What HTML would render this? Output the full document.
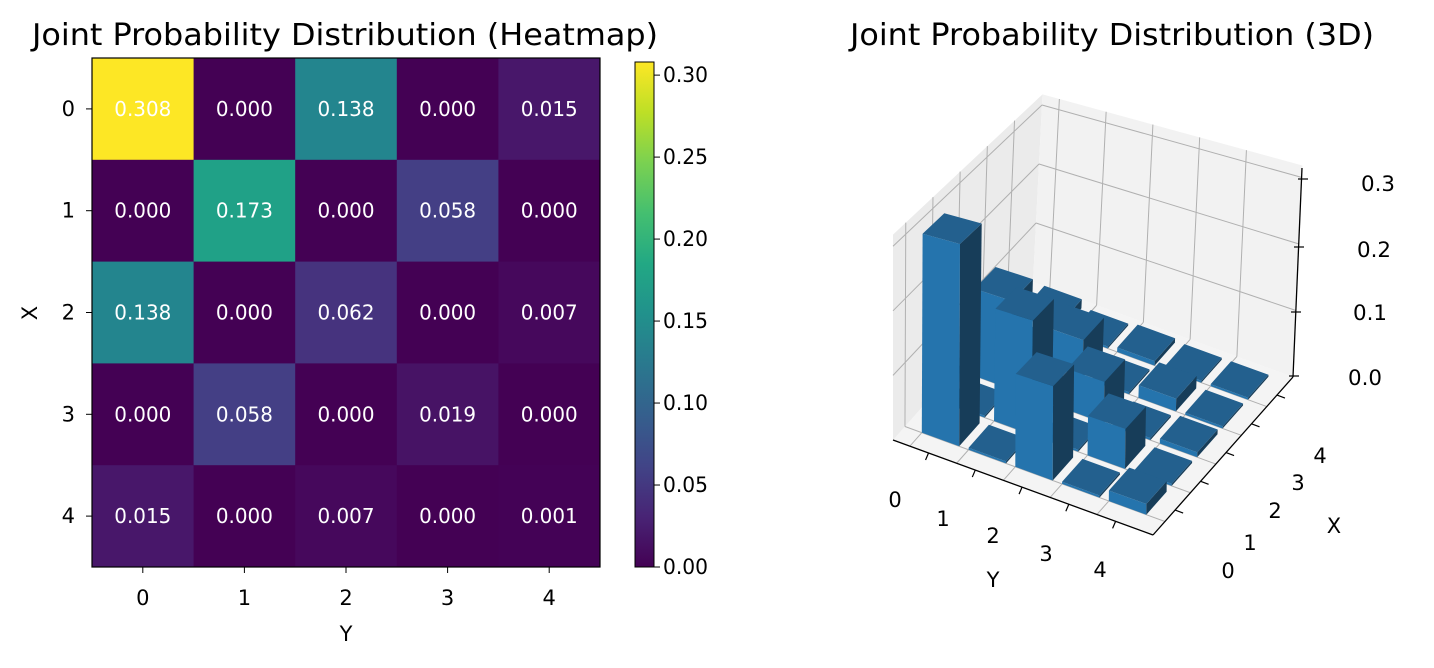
<!DOCTYPE html>
<html><head><meta charset="utf-8"><style>
html,body{margin:0;padding:0;background:#fff;}
svg{display:block;font-family:"DejaVu Sans","Liberation Sans",sans-serif;}
</style></head><body>
<svg id="s" width="1434" height="668" viewBox="0 0 1434 668" xmlns="http://www.w3.org/2000/svg">
<defs>
<linearGradient id="vir" x1="0" y1="1" x2="0" y2="0">
<stop offset="0" stop-color="#440154"/><stop offset="0.1" stop-color="#482475"/><stop offset="0.2" stop-color="#414487"/><stop offset="0.3" stop-color="#355f8d"/><stop offset="0.4" stop-color="#2a788e"/><stop offset="0.5" stop-color="#21918c"/><stop offset="0.6" stop-color="#22a884"/><stop offset="0.7" stop-color="#44bf70"/><stop offset="0.8" stop-color="#7ad151"/><stop offset="0.9" stop-color="#bddf26"/><stop offset="1" stop-color="#fde725"/>
</linearGradient>
</defs>
<text x="32" y="45" font-size="30" textLength="626" lengthAdjust="spacingAndGlyphs">Joint Probability Distribution (Heatmap)</text>
<g id="heat"></g>
<rect x="92" y="58" width="508" height="509" fill="none" stroke="#000" stroke-width="1.2"/>
<rect x="635" y="62" width="19" height="505" fill="url(#vir)" stroke="#000" stroke-width="1"/>
<g id="cb"></g>
<text x="346" y="641" font-size="21" text-anchor="middle">Y</text>
<text x="37" y="313" font-size="21" text-anchor="middle" transform="rotate(-90 37 313)">X</text>
<text x="850" y="45" font-size="30" textLength="524" lengthAdjust="spacingAndGlyphs">Joint Probability Distribution (3D)</text>
<g id="d3"></g>
</svg>
<script>
var P=[[.308,0,.138,0,.015],[0,.173,0,.058,0],[.138,0,.062,0,.007],[0,.058,0,.019,0],[.015,0,.007,0,.001]];
var C={"0.308":"#fde725","0.173":"#20a187","0.138":"#23858e","0.062":"#46337e","0.058":"#443f85","0.019":"#471365","0.015":"#48176a","0.007":"#46085c","0.001":"#440256","0.000":"#440154"};
var ns="http://www.w3.org/2000/svg";
function el(p,t,a,txt){var e=document.createElementNS(ns,t);for(var k in a)e.setAttribute(k,a[k]);if(txt!==undefined)e.textContent=txt;p.appendChild(e);return e;}
var h=document.getElementById('heat');
var cw=508/5,ch=509/5;
for(var i=0;i<5;i++){for(var j=0;j<5;j++){var v=P[i][j].toFixed(3);
el(h,'rect',{x:92+j*cw,y:58+i*ch,width:cw+0.5,height:ch+0.5,fill:C[v]});
el(h,'text',{x:92+j*cw+cw/2-28.5,y:58+i*ch+ch/2+7,'font-size':20,fill:'#fff',textLength:57,lengthAdjust:'spacingAndGlyphs'},v);}
el(h,'line',{x1:86,y1:58+i*ch+ch/2,x2:92,y2:58+i*ch+ch/2,stroke:'#000'});
el(h,'text',{x:75,y:58+i*ch+ch/2+7,'font-size':21,'text-anchor':'end'},i);
el(h,'line',{x1:92+i*cw+cw/2,y1:567,x2:92+i*cw+cw/2,y2:573,stroke:'#000'});
el(h,'text',{x:92+i*cw+cw/2,y:605,'font-size':21,'text-anchor':'middle'},i);}
var cb=document.getElementById('cb');
for(var k=0;k<=6;k++){var y=567-k*0.05/0.308*505;
el(cb,'line',{x1:654,y1:y,x2:660,y2:y,stroke:'#000'});
el(cb,'text',{x:663,y:y+7,'font-size':21,textLength:45,lengthAdjust:'spacingAndGlyphs'},(k*0.05).toFixed(2));}
var d=document.getElementById('d3');
var A=[893,440],B=[1153,535],Cc=[1293,377];
var u0=-0.36,U=5.56,v0=-0.47,V=5.5;
var ey=[(B[0]-A[0])/U,(B[1]-A[1])/U],ex=[(Cc[0]-B[0])/V,(Cc[1]-B[1])/V];
function p(u,v,z){var fu=(u-u0)/U,fv=(v-v0)/V;var s=590+75*fu+56*(1-fv);
return [A[0]+(u-u0)*ey[0]+(v-v0)*ex[0]+z*fv*30, A[1]+(u-u0)*ey[1]+(v-v0)*ex[1]-z*s];}
function poly(pts,f,extra){var a={points:pts.map(function(q){return q[0].toFixed(1)+','+q[1].toFixed(1)}).join(' '),fill:f};for(var k in extra)a[k]=extra[k];return el(d,'polygon',a);}
function ln(a,b,c,w){el(d,'line',{x1:a[0],y1:a[1],x2:b[0],y2:b[1],stroke:c||'#b0b0b0','stroke-width':w||1});}
var um=u0+U,vm=v0+V,zt=0.318;
poly([p(u0,v0,0),p(um,v0,0),p(um,vm,0),p(u0,vm,0)],'#f4f4f4');
poly([p(u0,v0,0),p(u0,vm,0),p(u0,vm,zt),p(u0,v0,zt)],'#ebebeb');
poly([p(u0,vm,0),p(um,vm,0),p(um,vm,zt),p(u0,vm,zt)],'#f2f2f2');
for(var t=0;t<5;t++){
ln(p(t,v0,0),p(t,vm,0));ln(p(t,vm,0),p(t,vm,zt));
ln(p(u0,t,0),p(um,t,0));ln(p(u0,t,0),p(u0,t,zt));}
for(var z=0.1;z<0.35;z+=0.1){ln(p(u0,v0,z),p(u0,vm,z));ln(p(u0,vm,z),p(um,vm,z));}
var bars=[];for(var x=0;x<5;x++)for(var y=0;y<5;y++)bars.push([y,x,P[x][y]]);
bars.sort(function(a,b){return (b[1]-b[0]*0.9)-(a[1]-a[0]*0.9);});
bars.forEach(function(b){var u=b[0],v=b[1],z=Math.max(b[2],0.003),w=0.8;
poly([p(u,v,0),p(u+w,v,0),p(u+w,v,z),p(u,v,z)],'#2574ad');
poly([p(u+w,v,0),p(u+w,v+w,0),p(u+w,v+w,z),p(u+w,v,z)],'#173d59');
poly([p(u,v,z),p(u+w,v,z),p(u+w,v+w,z),p(u,v+w,z)],'#23608e');});
ln(p(u0,v0,0),p(um,v0,0),'#000',1.3);ln(p(um,v0,0),p(um,vm,0),'#000',1.3);
ln([1293,377],[1302,168],'#000',1.3);
var zt2=[[1293,376],[1295,312],[1298,247],[1302,179]];
var zl=[[1362,378],[1367,313],[1371,250],[1375,184]];
for(var k=0;k<4;k++){ln([zt2[k][0]-4,zt2[k][1]],[zt2[k][0]+6,zt2[k][1]],'#000',1.2);
el(d,'text',{x:zl[k][0]-14,y:zl[k][1]+7,'font-size':21,textLength:34,lengthAdjust:'spacingAndGlyphs'},(k*0.1).toFixed(1));}
var lblY=[[895,500],[943,519],[993,536],[1046,554],[1100,570]];
var lblX=[[1228,571],[1250,543],[1275,511],[1298,483],[1320,456]];
for(var t=0;t<5;t++){var q=p(t+0.4,v0,0);ln(q,[q[0]-3,q[1]+7],'#000',1.2);
el(d,'text',{x:lblY[t][0],y:lblY[t][1]+7,'font-size':21,'text-anchor':'middle'},t);
var r=p(um,t+0.4,0);ln(r,[r[0]+8,r[1]+3],'#000',1.2);
el(d,'text',{x:lblX[t][0],y:lblX[t][1]+7,'font-size':21,'text-anchor':'middle'},t);}
el(d,'text',{x:993,y:587,'font-size':21,'text-anchor':'middle'},'Y');
el(d,'text',{x:1334,y:533,'font-size':21,'text-anchor':'middle'},'X');
</script>
</body></html>
